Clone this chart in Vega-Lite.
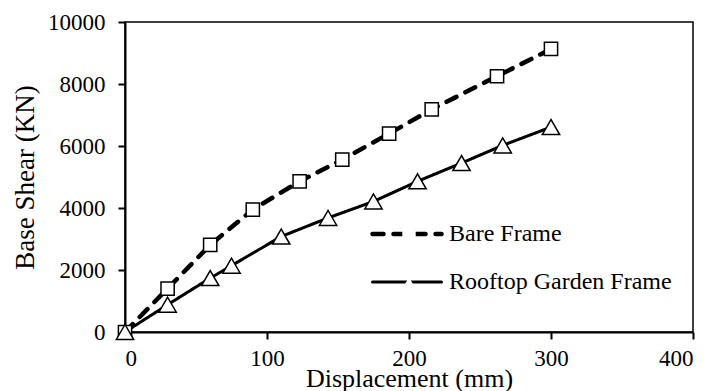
{
  "$schema": "https://vega.github.io/schema/vega-lite/v6.json",
  "width": 568,
  "height": 310,
  "autosize": "none",
  "padding": {"left": 125, "top": 22, "right": 19, "bottom": 59},
  "background": "white",
  "config": {
    "font": "Liberation Serif",
    "view": {"stroke": "black", "strokeWidth": 1.5},
    "axis": {
      "domainColor": "black",
      "domainWidth": 2,
      "tickColor": "black",
      "tickWidth": 2,
      "tickSize": 7,
      "labelFont": "Liberation Serif",
      "labelFontSize": 23,
      "labelColor": "black",
      "titleFont": "Liberation Serif",
      "titleFontWeight": "normal",
      "titleColor": "black",
      "grid": false
    }
  },
  "data": {
    "values": [
      {"series": "Bare Frame", "displacement": 0, "shear": 0},
      {"series": "Bare Frame", "displacement": 30, "shear": 1400},
      {"series": "Bare Frame", "displacement": 60, "shear": 2810},
      {"series": "Bare Frame", "displacement": 90, "shear": 3950},
      {"series": "Bare Frame", "displacement": 123, "shear": 4860},
      {"series": "Bare Frame", "displacement": 153, "shear": 5560},
      {"series": "Bare Frame", "displacement": 186, "shear": 6400},
      {"series": "Bare Frame", "displacement": 216, "shear": 7180},
      {"series": "Bare Frame", "displacement": 262, "shear": 8250},
      {"series": "Bare Frame", "displacement": 300, "shear": 9130},
      {"series": "Rooftop Garden Frame", "displacement": 0, "shear": 0},
      {"series": "Rooftop Garden Frame", "displacement": 30, "shear": 880},
      {"series": "Rooftop Garden Frame", "displacement": 60, "shear": 1740},
      {"series": "Rooftop Garden Frame", "displacement": 75, "shear": 2140},
      {"series": "Rooftop Garden Frame", "displacement": 110, "shear": 3080},
      {"series": "Rooftop Garden Frame", "displacement": 143, "shear": 3680},
      {"series": "Rooftop Garden Frame", "displacement": 175, "shear": 4210},
      {"series": "Rooftop Garden Frame", "displacement": 206, "shear": 4860},
      {"series": "Rooftop Garden Frame", "displacement": 237, "shear": 5450},
      {"series": "Rooftop Garden Frame", "displacement": 266, "shear": 6020},
      {"series": "Rooftop Garden Frame", "displacement": 300, "shear": 6610}
    ]
  },
  "encoding": {
    "x": {
      "field": "displacement",
      "type": "quantitative",
      "scale": {"domain": [0, 400], "nice": false},
      "axis": {
        "title": "Displacement (mm)",
        "values": [0, 100, 200, 300, 400],
        "format": "d",
        "labelPadding": 8,
        "titleFontSize": 26,
        "titleBaseline": "alphabetic",
        "titleY": 54
      }
    },
    "y": {
      "field": "shear",
      "type": "quantitative",
      "scale": {"domain": [0, 10000], "nice": false},
      "axis": {
        "title": "Base Shear (KN)",
        "values": [0, 2000, 4000, 6000, 8000, 10000],
        "format": "d",
        "labelPadding": 13,
        "titleFontSize": 27,
        "titleBaseline": "alphabetic",
        "titleX": -92
      }
    }
  },
  "resolve": {"legend": {"strokeDash": "independent", "shape": "independent"}},
  "layer": [
    {
      "mark": {"type": "line", "color": "black", "strokeCap": "round"},
      "encoding": {
        "strokeDash": {
          "field": "series",
          "type": "nominal",
          "scale": {"domain": ["Bare Frame", "Rooftop Garden Frame"], "range": [[11, 10], [1, 0]]},
          "legend": {
            "orient": "none",
            "legendX": 246,
            "legendY": 176,
            "zindex": 0,
            "title": null,
            "padding": 0,
            "symbolType": "stroke",
            "symbolSize": 4761,
            "symbolStrokeWidth": 4,
            "symbolStrokeColor": "black",
            "labelFont": "Liberation Serif",
            "labelFontSize": 24,
            "labelColor": "black",
            "labelOffset": 6,
            "labelLimit": 400,
            "rowPadding": -1,
            "encode": {
              "symbols": {
                "update": {
                  "strokeWidth": {"signal": "(datum.value === 'Bare Frame' ? 4.5 : 3)"},
                  "strokeCap": {"value": "round"}
                }
              }
            }
          }
        },
        "strokeWidth": {
          "condition": {"test": "datum.series === 'Bare Frame'", "value": 4.5},
          "value": 3
        }
      }
    },
    {
      "mark": {"type": "point", "filled": true, "fill": "white", "stroke": "black", "strokeWidth": 1.5, "opacity": 1},
      "encoding": {
        "shape": {
          "field": "series",
          "type": "nominal",
          "scale": {"range": ["square", "triangle-up"]},
          "legend": {
            "orient": "none",
            "legendX": 272,
            "legendY": 201,
            "zindex": 2,
            "title": null,
            "padding": 0,
            "symbolSize": 180,
            "symbolFillColor": "white",
            "symbolStrokeColor": "black",
            "symbolStrokeWidth": 1.5,
            "labelFontSize": 24,
            "labelOpacity": 0,
            "rowPadding": 24,
            "encode": {
              "symbols": {
                "update": {
                  "fill": {"value": "white"},
                  "stroke": {"value": "black"},
                  "strokeWidth": {"value": 1.5},
                  "strokeOpacity": {"value": 1},
                  "opacity": {"value": 1}
                }
              }
            }
          }
        },
        "size": {
          "condition": {"test": "datum.series === 'Bare Frame'", "value": 175},
          "value": 300
        }
      }
    }
  ]
}
